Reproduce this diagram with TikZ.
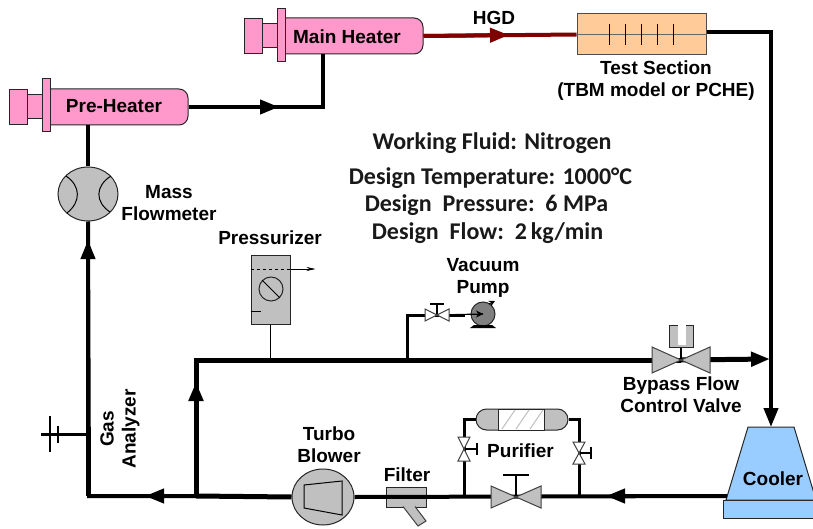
\documentclass[tikz,border=0pt]{standalone}
\usepackage{fontspec}
\setmainfont{Liberation Sans}
\newfontfamily\specfont{Carlito}
\usetikzlibrary {arrows.meta,
                 calc,
                 shapes.geometric,
                 shapes.misc}
\definecolor{heaterpink}{HTML}{FF99CC}
\definecolor{partgray}{HTML}{C0C0C0}
\definecolor{testorange}{HTML}{FFCC99}
\definecolor{coolerblue}{HTML}{99CCFF}
\definecolor{hotred}{HTML}{800000}
\tikzset{
        base/.style={draw=black!85, line width=1pt, inner sep=0pt},
        part/.style={base, rectangle, fill=heaterpink},
        gray part/.style={base, fill=partgray},
        caption/.style={font=\fontsize{19}{22}\selectfont\bfseries, align=center},
        spec/.style={font=\specfont\fontsize{24}{27}\selectfont\bfseries, text=black!90},
        pipe/.style={line width=4pt, line join=miter},
        fatpipe/.style={line width=5pt, line join=miter},
        leanpipe/.style={line width=3pt, line join=miter},
        hotpipe/.style={line width=4pt, draw=hotred},
        thin pipe/.style={line width=1.2pt},
        headtip/.style={-{Triangle[length=19pt,width=14pt]}},
        valve body/.style={draw=black!75, line width=1pt, fill=partgray},
        white valve/.style={valve body/.append style={fill=white}},
        gatevalve/.pic={\draw[valve body] (-1,-.5) -- (1,.5) -- (1,-.5) -- (-1,.5) -- cycle;},
 }

\begin{document}
\begin{tikzpicture}[x=1pt, y=-1pt]
    \useasboundingbox (0,0) rectangle (813,529);

    % pre-heater
    \node[part, rounded corners=9pt, minimum width=146pt, minimum height=36pt] (pre) at (115,107) {};
    \node[part, minimum width=18pt, minimum height=35pt] (precap) at (18,107) {};
    \node[part, minimum width=16pt, minimum height=24pt] (preneck) at (35,107) {};
    \node[part, minimum width=8pt, minimum height=53pt] (preflange) at (46,105.5) {};
    \node[caption] (prelabel) at (114,106.5) {Pre-Heater};

    % main heater
    \node[part, rounded corners=9pt, minimum width=146pt, minimum height=36pt] (main) at (350,36) {};
    \node[part, minimum width=18pt, minimum height=35pt] (maincap) at (253,36) {};
    \node[part, minimum width=16pt, minimum height=24pt] (mainneck) at (270,36) {};
    \node[part, minimum width=8pt, minimum height=53pt] (mainflange) at (281,35) {};
    \node[caption] (mainlabel) at (347,36.5) {Main Heater};

    % test section
    \node[base, draw=black!70, fill=testorange, minimum width=129pt, minimum height=41pt] (test) at (641.5,34.5) {};
    \draw[line width=1pt, draw=black!60] (test.west) -- (test.east);
    \foreach \x in {609,625,641,657,673}
        \draw[line width=1pt] (\x,24) -- (\x,45);
    \node[caption] (testlabel) at (656,81) {Test Section\\(TBM model or PCHE)};
    \node[caption] (hgd) at (494,18) {HGD};

    % flowmeter
    \node[gray part, ellipse, minimum width=60pt, minimum height=54pt] (flow) at (88,194) {};
    \draw[line width=1pt] (66,176) .. controls (81,186) and (81,202) .. (67,213);
    \draw[line width=1pt] (111,176) .. controls (95,186) and (95,202) .. (110,212);
    \node[caption] (flowlabel) at (169,203.5) {Mass\\Flowmeter};

    % pressurizer
    \node[gray part, minimum width=39pt, minimum height=69pt] (press) at (270.5,289.5) {};
    \node[base, circle, minimum size=24pt] (gauge) at (271,289) {};
    \draw[line width=1pt] (gauge.135) -- (gauge.315);
    \draw[line width=2pt] (gauge.135) -- (gauge);
    \draw[line width=1pt] (press.west |- 0,311) -- ++(10,0);
    \draw[line width=1pt, dashed] (press.west |- 0,269) -- (press.east |- 0,269);
    \draw[line width=.7pt, -{Stealth[length=9pt,width=4pt]}] (press.east |- 0,269) -- ++(25,0);
    \node[caption] (presslabel) at (270,238) {Pressurizer};

    % cooler
    \node[base, fill=coolerblue, minimum width=96pt, minimum height=18pt] (coolerbase) at (771,509) {};
    \draw[base, fill=coolerblue] (748,427) -- (794,427) -- (816,500) -- (726,500) -- cycle;
    \coordinate (cooler) at (771,427);
    \node[caption] (coolerlabel) at (773,479) {Cooler};

    % turbo blower
    \node[gray part, ellipse, minimum width=62pt, minimum height=56pt] (blower) at (323,497) {};
    \draw[line width=1pt] (304,485) -- (342,481) -- (342,515) -- (304,508) -- cycle;
    \node[caption] (blowerlabel) at (329,445) {Turbo\\Blower};

    % filter
    \node[gray part, minimum width=40pt, minimum height=20pt] (filter) at (406,497) {};
    \draw[valve body] (403,506.5) -- (418,526) -- (426,521) -- (415,506.5);
    \fill[partgray] (403.7,505) rectangle (414.3,507.2);
    \node[caption] (filterlabel) at (407,475) {Filter};

    % purifier
    \node[gray part, rounded rectangle, minimum width=92pt, minimum height=21pt] (purifier) at (522,419.5) {};
    \node[base, fill=white, minimum width=46pt, minimum height=21pt] (window) at (521,419.5) {};
    \foreach \x in {502,516,530}
        \draw[line width=1pt, draw=black!25] (\x,429) -- (\x+13,410);
    \node[caption] (purifierlabel) at (520.5,450.5) {Purifier};

    % vacuum pump
    \node[base, circle, fill=black!50, minimum size=24pt] (pump) at (483,314) {};
    \fill (474,325) -- (492,325) -- (496,328) -- (470,328) -- cycle;
    \draw[line width=1pt, -{Stealth[length=6pt,width=6pt]}] (489,304) -- (495,301);
    \node[caption] (pumplabel) at (483,278) {Vacuum\\Pump};

    % bypass valve actuator
    \node[gray part, minimum width=24pt, minimum height=22pt] (actuator) at (681,336) {};
    \fill[white] (678,323) rectangle (686,345);
    \node[caption] (bypasslabel) at (681,395) {Bypass Flow\\Control Valve};

    \node[caption] (gaslabel) at (120,429) [rotate=90] {Gas\\Analyzer};

    \node[spec] (fluid) at (492,143.5) {Working Fluid: Nitrogen};
    \node[spec] (temp) at (490.5,178) {Design Temperature: 1000°C};
    \node[spec] (dpress) at (486.5,205) {Design\ \ Pressure:\ \ 6 MPa};
    \node[spec] (dflow) at (487.5,233) {Design\ \ Flow:\ \ 2\,kg/min};

    \coordinate (elbow) at (323,107);
    \coordinate (pretip) at (279,107);
    \coordinate (hgdtip) at (509,35);
    \coordinate (corner) at (771,32);
    \coordinate (sw) at (89,496);
    \coordinate (flowtip) at (88,240);
    \coordinate (swtip) at (145,496);
    \coordinate (gas) at (89,434);
    \coordinate (tee) at (196,496);
    \coordinate (teetop) at (196,360);
    \coordinate (teetip) at (196,382);
    \coordinate (mergetip) at (770,359);
    \coordinate (vmain) at (516,497);
    \coordinate (vbypass) at (681,360);
    \coordinate (coolerout) at (727,496);
    \coordinate (coolertip) at (606,496);
    \coordinate (vleft) at (464,449);
    \coordinate (vright) at (579,453);
    \coordinate (vvac) at (437,315);
    \coordinate (vactee) at (407,360);

    \draw[pipe] (pre.east) -- (elbow) -- (elbow |- main.south);
    \draw[pipe, headtip] (pre.east) -- (pretip);
    \draw[hotpipe] (main.east) -- (test.west);
    \draw[hotpipe, headtip, draw=hotred, fill=hotred] (main.east) -- (hgdtip);
    \draw[pipe, headtip] (test.east |- corner) -- (corner) -- (cooler);
    \draw[pipe] (flow.north |- pre.south) -- (flow.north);
    \draw[pipe] (flow.south) -- (sw) -- (tee);
    \draw[pipe, headtip] (flow.south |- sw) -- (flowtip);
    \draw[leanpipe] (gas) -- ++(-48,0);
    \draw[line width=2pt] (50,416) -- (50,452);
    \draw[line width=2pt] (58,426) -- (58,443);

    \draw[pipe] (coolerout) -- (blower.east);
    \draw[pipe, headtip] (coolerout) -- (coolertip);
    \draw[fatpipe] (tee) -- (blower.west);
    \draw[pipe, headtip] (tee) -- (swtip);
    \draw[fatpipe] (tee) -- (teetop) -- (vbypass);
    \draw[fatpipe, headtip] (tee) -- (teetip);
    \draw[fatpipe, headtip] (vbypass) -- (mergetip);
    \draw[thin pipe] (press.south) -- (press.south |- teetop);
    \draw[leanpipe] (vactee) -- (vactee |- vvac) -- (vvac) -- ++(28,0);
    \draw[thin pipe] (vvac) -- (pump.center);
    \draw[line width=1pt, -{Stealth[length=7pt,width=7pt]}] (pump.west) -- (pump.center);
    \draw[leanpipe] (vleft |- tee) -- (vleft |- purifier.west) -- (purifier.west);
    \draw[leanpipe] (vright |- tee) -- (vright |- purifier.east) -- (purifier.east);

    \draw[thin pipe] (vmain) -- ++(0,-22) ++(-13,0) -- ++(26,0);
    \draw[thin pipe] (vbypass) -- (actuator.south);
    \draw[thin pipe] (vleft) -- ++(13,0) ++(0,-6) -- ++(0,12);
    \draw[thin pipe] (vright) -- ++(12,0) ++(0,-6) -- ++(0,12);
    \draw[thin pipe] (vvac) -- ++(0,-11) ++(-7,0) -- ++(14,0);

    \pic[xscale=25, yscale=22] at (vmain) {gatevalve};
    \pic[xscale=29, yscale=26] at (vbypass) {gatevalve};
    \pic[white valve, xscale=12, yscale=12] at (vvac) {gatevalve};
    \pic[white valve, rotate=90, xscale=12, yscale=12] at (vleft) {gatevalve};
    \pic[white valve, rotate=90, xscale=11, yscale=12] at (vright) {gatevalve};
\end{tikzpicture}
\end{document}
